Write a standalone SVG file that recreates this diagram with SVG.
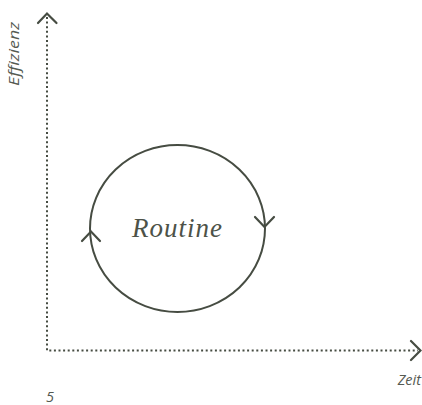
<svg xmlns="http://www.w3.org/2000/svg" width="422" height="405" viewBox="0 0 422 405">
<style>
.axis{fill:none;stroke:#464c42;stroke-width:2;stroke-dasharray:2 2.6}
.head{fill:none;stroke:#464c42;stroke-width:2.2;stroke-linecap:round;stroke-linejoin:miter}
.loop{fill:none;stroke:#464c42;stroke-width:2}
.lbl{font-family:"Open Sans","Noto Sans",sans-serif;font-style:italic;font-size:14.5px;fill:#555a52}
.title{font-family:"Liberation Serif",serif;font-style:italic;font-size:27px;fill:#4d5248}
</style>
<rect width="422" height="405" fill="#ffffff"/>
<g id="connectors">
  <path class="axis" d="M47,17 V350.5 H418"/>
  <path class="head" d="M38,23 L47,13.5 L56.5,23"/>
  <path class="head" d="M411,341 L420.5,350.5 L411,360"/>
</g>
<g id="routine">
  <ellipse class="loop" cx="177.5" cy="228.5" rx="87.5" ry="83.5"/>
  <path class="head" d="M255,217 L264.5,227 L274,217"/>
  <path class="head" d="M82,241 L91,231.5 L100,241"/>
  <text class="title" x="132" y="237" textLength="90" lengthAdjust="spacing">Routine</text>
</g>
<g id="labels">
  <text class="lbl" transform="translate(19,54) rotate(-90)" text-anchor="middle" textLength="64" lengthAdjust="spacingAndGlyphs">Effizienz</text>
  <text class="lbl" x="421" y="385" text-anchor="end">Zeit</text>
  <text class="lbl" x="46" y="402">5</text>
</g>
</svg>
